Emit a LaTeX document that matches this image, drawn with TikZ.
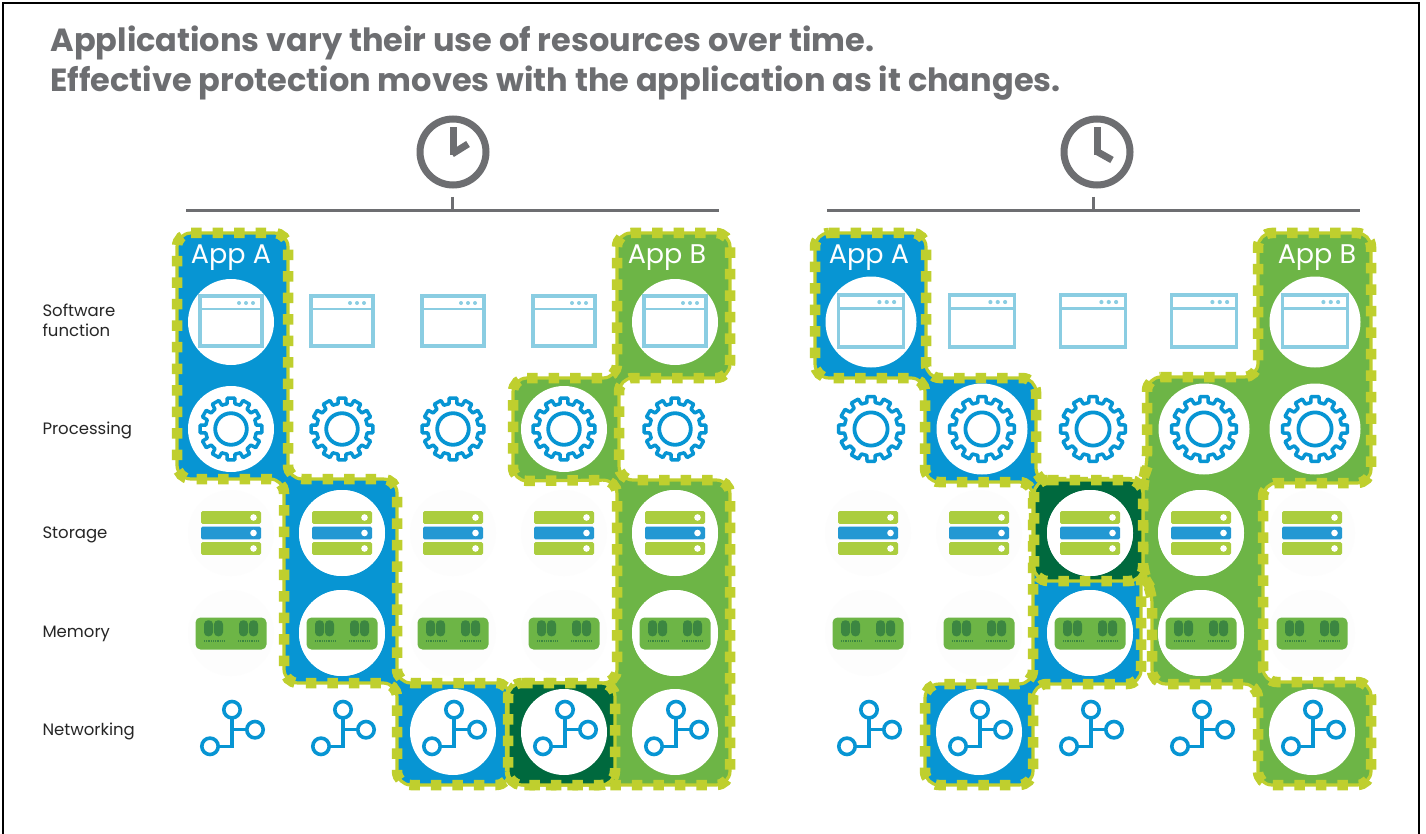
\documentclass[tikz,border=0pt]{standalone}
\usepackage{fontspec}
\setmainfont{Poppins}
\usepackage{xcolor}
\usetikzlibrary{positioning}

\definecolor{appblue}{HTML}{0795D3}
\definecolor{appgreen}{HTML}{6DB546}
\definecolor{appdark}{HTML}{00693E}
\definecolor{guard}{HTML}{BFCF2E}
\definecolor{slate}{HTML}{6D6E71}
\definecolor{pale}{HTML}{8ACDE2}
\definecolor{barlime}{HTML}{ABCD3F}
\definecolor{barblue}{HTML}{2398D3}
\definecolor{chip}{HTML}{3C8641}

\tikzset{
	region/.style={fill=#1, draw=guard, line width=3.2pt, rounded corners=14pt,
		postaction={draw=guard, line width=10.5pt, dash pattern=on 10.5pt off 11pt}},
	disc/.style={circle, fill=white, minimum size=86pt, inner sep=0pt},
	discwide/.style={disc, minimum size=91pt},
	discfaint/.style={disc, fill=black!0.6},
	rowlabel/.style={anchor=west, align=left, font=\fontsize{16.5}{20}\selectfont, text=black!85},
	applabel/.style={font=\fontsize{27}{30}\selectfont, text=white},
	headline/.style={anchor=base west, font=\fontsize{32}{36}\selectfont\bfseries, text=slate},
	pics/windowicon/.style={code={
		\draw[pale, line width=3.6pt] (-31,-26) rectangle (31,24);
		\draw[pale, line width=2.6pt] (-31,-13) -- (31,-13);
		\foreach \d in {8,15,22}
			\fill[pale] (\d,-19) circle (2);
	}},
	pics/gearicon/.style={code={
		\draw[appblue, line width=3.5pt, line join=round] (-9:25.5)
			\foreach \a in {0,30,...,330} { -- (\a-9:25.5) -- (\a-7:31) -- (\a+7:31) -- (\a+9:25.5) } -- cycle;
		\draw[appblue, line width=3.8pt] (0,0) circle (15.8);
	}},
	pics/servericon/.style={code={
		\foreach \o/\col in {-15.5/barlime,0/barblue,15.5/barlime} {
			\fill[\col, rounded corners=1.5pt] (-30,\o-6.3) rectangle (30,\o+6.3);
			\fill[white] (22.5,\o) circle (3.3);
		}
	}},
	pics/memoryicon/.style={code={
		\fill[appgreen, rounded corners=5pt] (-35.5,-15.5) rectangle (35.5,16.5);
		\foreach \o in {-27,-17,8,18}
			\fill[chip, rounded corners=4pt] (\o,-12.7) rectangle (\o+9,3.3);
		\draw[chip, line width=2pt, dash pattern=on 0.9pt off 0.9pt] (-27,8) -- (-6,8) (7,8) -- (28,8);
	}},
	pics/neticon/.style={code={
		\draw[appblue, line width=3.2pt] (-21,14.3) -- (1,14.3) -- (1,-22.3) (1,-2.3) -- (24,-2.3);
		\foreach \p/\q in {1/-22.3,24/-2.3,-21/14.3}
			\draw[appblue, line width=3.6pt, fill=white] (\p,\q) circle (8.2);
	}},
	pics/clockicon/.style={code={
		\draw[slate, line width=7pt] (0,0) circle (33);
		\draw[slate, line width=7pt] (0,3) -- (0,-25);
		\draw[slate, line width=7pt] #1;
	}}
}

\begin{document}
\begin{tikzpicture}[x=1pt, y=-1pt]
	\useasboundingbox (0,0) rectangle (1426,834);
	\fill[white] (0,0) rectangle (1426,834);
	\draw[black, line width=2pt] (3,834) -- (3,3) -- (1419,3) -- (1419,834);

	\node[headline] (title1) at (47,52) {Applications vary their use of resources over time.};
	\node[headline] (title2) at (47,92) {Effective protection moves with the application as it changes.};

	% clocks and time rails
	\coordinate (clockL) at (453,152);
	\coordinate (clockR) at (1097,152);
	\pic at (clockL) {clockicon={(-1,2) -- (15,-8)}};
	\pic at (clockR) {clockicon={(-1,-1) -- (15,8)}};
	\coordinate (railLa) at (186,211);
	\coordinate (railLb) at (719,211);
	\coordinate (tickL) at (452,197);
	\coordinate (railRa) at (827,211);
	\coordinate (railRb) at (1360,211);
	\coordinate (tickR) at (1093,197);
	\draw[slate, line width=3pt] (railLa) -- (railLb) (tickL) -- (tickL |- railLa);
	\draw[slate, line width=3pt] (railRa) -- (railRb) (tickR) -- (tickR |- railRa);

	% row labels
	\node[rowlabel] (software) at (39,320) {Software\\function};
	\node[rowlabel] (processing) at (39,430) {Processing};
	\node[rowlabel] (storage) at (39,535) {Storage};
	\node[rowlabel] (memory) at (39,634) {Memory};
	\node[rowlabel] (networking) at (39,731) {Networking};

	% regions, left panel
	\draw[region=appblue] (177,233) -- (288,233) -- (288,479) -- (397,479) -- (397,683) -- (510,683) -- (510,785)
		-- (397,785) -- (397,683) -- (284,683) -- (284,479) -- (177,479) -- cycle;
	\draw[region=appgreen] (513,378) -- (617,378) -- (617,233) -- (730,233) -- (730,378) -- (619,378) -- (619,480)
		-- (730,480) -- (730,785) -- (510,785) -- (510,683) -- (617,683) -- (617,480) -- (513,481) -- cycle;
	\draw[region=appdark] (508,683) -- (615,683) -- (615,785) -- (508,785) -- cycle;

	% regions, right panel
	\draw[region=appblue] (815,233) -- (926,233) -- (926,378) -- (1036,378) -- (1036,482) -- (1141,482) -- (1141,684)
		-- (1033,684) -- (1033,785) -- (925,785) -- (925,684) -- (1033,684) -- (1033,482) -- (925,482) -- (925,378)
		-- (815,378) -- cycle;
	\draw[region=appgreen] (1147,377) -- (1258,377) -- (1258,233) -- (1371,233) -- (1371,483) -- (1263,483)
		-- (1263,682) -- (1371,682) -- (1371,785) -- (1258,785) -- (1258,684) -- (1152,684) -- (1152,590)
		-- (1143,575) -- (1143,480) -- (1147,468) -- cycle;
	\draw[region=appdark] (1034,480) -- (1143,480) -- (1143,581) -- (1034,581) -- cycle;

	\node[applabel] (appAL) at (231,258) {App A};
	\node[applabel] (appBL) at (667,258) {App B};
	\node[applabel] (appAR) at (869,258) {App A};
	\node[applabel] (appBR) at (1317,258) {App B};

	% cell grid
	\foreach \pn/\xo/\dx in {L/0/0, R/637/3}
		\foreach \c/\xc in {1/231,2/342,3/453,4/564,5/675} {
			\coordinate (\pn\c1) at ({\xc+\xo+\dx},322);
			\coordinate (\pn\c2) at ({\xc+\xo+\dx},429);
			\coordinate (\pn\c3) at ({\xc+\xo},533);
			\coordinate (\pn\c4) at ({\xc+\xo},633);
			\coordinate (\pn\c5) at ({\xc+\xo},732);
			\node[discfaint] (\pn f\c3) at (\pn\c3) {};
			\node[discfaint] (\pn f\c4) at (\pn\c4) {};
		}
	\foreach \c/\r in {1/1,1/2,2/3,2/4,3/5,4/5,4/2,5/1,5/3,5/4,5/5}
		\node[disc] (Ld\c\r) at (L\c\r) {};
	\foreach \c/\r in {1/1,2/2,4/2,5/1,5/2}
		\node[discwide] (Rd\c\r) at (R\c\r) {};
	\foreach \c/\r in {3/3,3/4,2/5,4/3,4/4,5/5}
		\node[disc] (Rd\c\r) at (R\c\r) {};

	% icons
	\foreach \pn/\sc in {L/1, R/1.05}
		\foreach \c in {1,...,5} {
			\pic[scale=\sc] at (\pn\c1) {windowicon};
			\pic[scale=\sc] at (\pn\c2) {gearicon};
			\pic at (\pn\c3) {servericon};
			\pic at (\pn\c4) {memoryicon};
			\pic at (\pn\c5) {neticon};
		}
\end{tikzpicture}
\end{document}
